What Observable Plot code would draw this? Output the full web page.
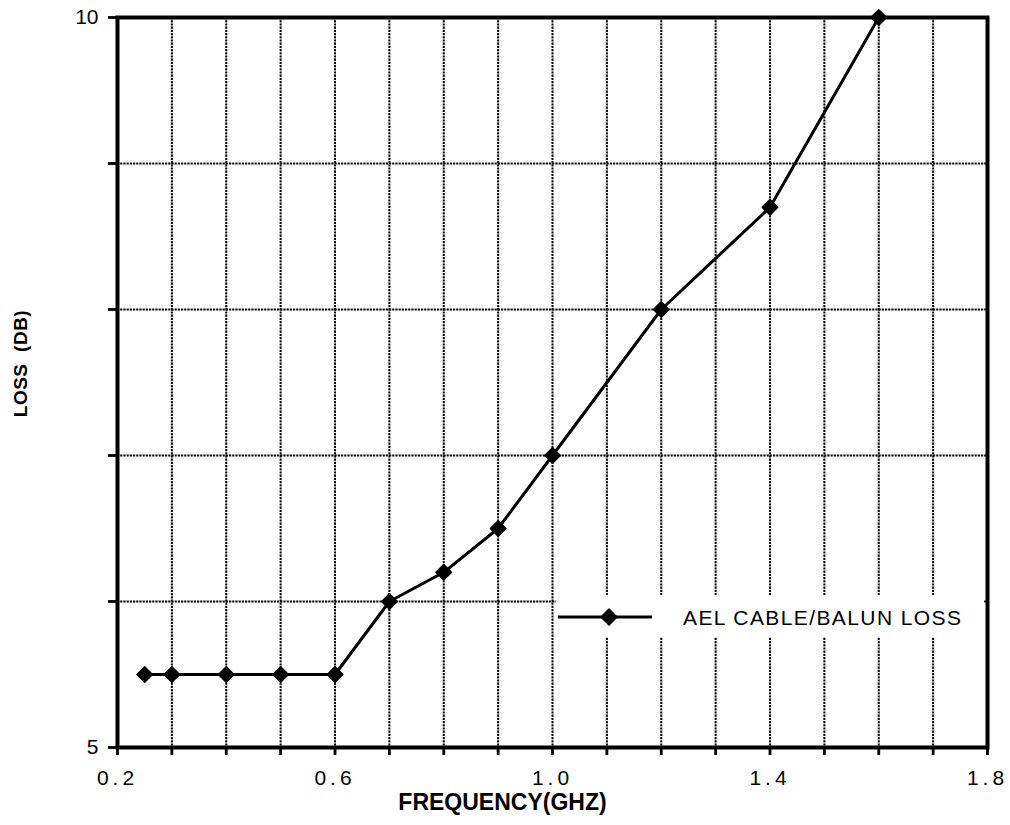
<!DOCTYPE html>
<html><head><meta charset="utf-8">
<script src="https://cdn.jsdelivr.net/npm/d3@7"></script>
<script src="https://cdn.jsdelivr.net/npm/@observablehq/plot@0.6"></script>
<style>
body{margin:0;background:#fff;}
#wrap{position:relative;width:1010px;height:825px;font-family:"Liberation Sans",Arial,sans-serif;}
#wrap svg text{font-family:"Liberation Sans",Arial,sans-serif;}
g[aria-label="x-axis tick label"] text{letter-spacing:4px;font-size:21px !important;}
g[aria-label="y-axis tick label"] text{font-size:21px !important;}
g[aria-label="x-axis tick"], g[aria-label="y-axis tick"]{stroke-width:2.8px !important;stroke:#000 !important;stroke-opacity:1 !important;}
g[aria-label="x-axis label"] text{font-weight:bold;font-size:23px;}
g[aria-label="y-axis label"] text{font-weight:bold;font-size:19px;letter-spacing:0.5px;}
#legend{position:absolute;left:556px;top:595px;width:428px;height:42px;background:#fff;}
</style></head><body><div id="wrap"></div>
<script>
// data
const freq = [0.25, 0.3, 0.4, 0.5, 0.6, 0.7, 0.8, 0.9, 1.0, 1.2, 1.4, 1.6];
const loss = [5.5, 5.5, 5.5, 5.5, 5.5, 6.0, 6.2, 6.5, 7.0, 8.0, 8.7, 10.0];
const seriesName = "AEL CABLE/BALUN LOSS";
const xTicks = [0.2, 0.3, 0.4, 0.5, 0.6, 0.7, 0.8, 0.9, 1.0, 1.1, 1.2, 1.3, 1.4, 1.5, 1.6, 1.7, 1.8];
const xTickLabels = ["0.2", "0.6", "1.0", "1.4", "1.8"];
const yTicks = [5, 6, 7, 8, 9, 10];
const yTickLabels = ["5", "10"];
const xTitle = "FREQUENCY(GHZ)";
const yTitle = "LOSS  (DB)";

const data = freq.map((f, i) => ({freq: f, loss: loss[i]}));
const gridStyle = {stroke: "#000", strokeWidth: 2, strokeDasharray: "2.2,1", strokeOpacity: 1};

const plot = Plot.plot({
  width: 1010,
  height: 825,
  marginLeft: 117,
  marginRight: 23,
  marginTop: 17,
  marginBottom: 78,
  style: {fontFamily: "Liberation Sans, Arial, sans-serif", fontSize: "20px", color: "#000", background: "#fff"},
  x: {domain: [0.2, 1.8]},
  y: {domain: [5, 10]},
  marks: [
    Plot.gridX(xTicks.slice(1, -1), gridStyle),
    Plot.gridY(yTicks.slice(1, -1), gridStyle),
    Plot.axisX({
      ticks: xTicks, tickSize: 8, tickPadding: 15, fontSize: 21,
      tickFormat: d => { const s = d.toFixed(1); return xTickLabels.includes(s) ? s : ""; },
      label: xTitle, labelAnchor: "center", labelArrow: "none", labelOffset: 60
    }),
    Plot.axisY({
      ticks: yTicks, tickSize: 9, tickPadding: 10, fontSize: 21,
      tickFormat: d => yTickLabels.includes(String(d)) ? String(d) : "",
      label: yTitle, labelAnchor: "center", labelArrow: "none", labelOffset: 106
    }),
    Plot.frame({stroke: "#000", strokeWidth: 4}),
    Plot.line(data, {x: "freq", y: "loss", stroke: "#000", strokeWidth: 3}),
    Plot.dot(data, {x: "freq", y: "loss", symbol: "diamond2", r: 7, fill: "#000", stroke: "#000", strokeWidth: 1.5, strokeLinejoin: "round"})
  ]
});

const wrap = document.getElementById("wrap");
wrap.appendChild(plot);
function shift(sel, dx, dy) {
  const g = d3.select(plot).select(sel);
  const t = g.attr("transform") || "";
  g.attr("transform", `translate(${dx},${dy}) ${t}`);
}
shift('g[aria-label="x-axis label"]', -50, 2);
shift('g[aria-label="y-axis label"]', 2, -19);

// legend
const leg = document.createElement("div");
leg.id = "legend";
leg.innerHTML = `<svg width="428" height="42">
  <line x1="2" x2="96" y1="22" y2="22" stroke="#000" stroke-width="3"/>
  <path d="M53,14L61,22L53,30L45,22Z" fill="#000" stroke="#000" stroke-width="1.5" stroke-linejoin="round"/>
  <text x="127" y="29.5" font-size="21" letter-spacing="1.4" fill="#000" font-family="Liberation Sans, Arial, sans-serif">${seriesName}</text>
</svg>`;
wrap.appendChild(leg);
</script>
</body></html>
